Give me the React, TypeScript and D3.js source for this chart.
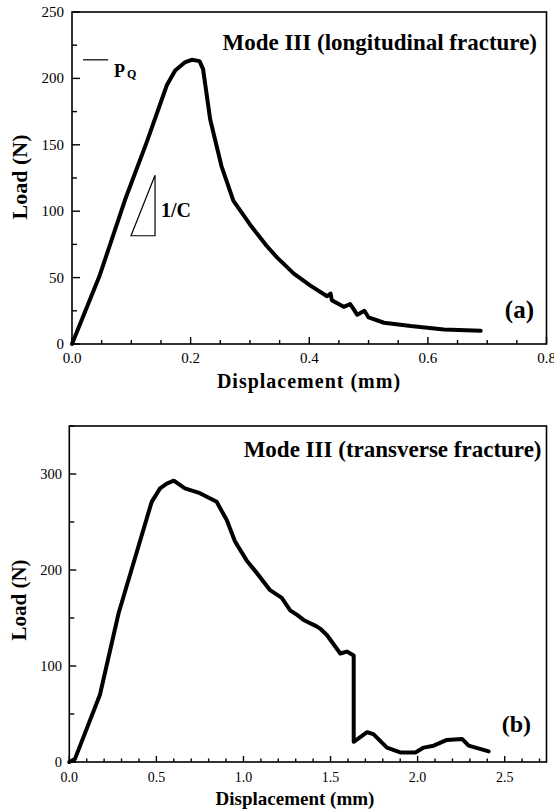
import React from "react";
import * as d3 from "d3";

// ---- Data ----
const longDisp = [0, 0.047, 0.089, 0.126, 0.16, 0.174, 0.19, 0.202, 0.215, 0.221, 0.233, 0.252, 0.272, 0.3, 0.328, 0.346, 0.374, 0.402, 0.43, 0.436, 0.438, 0.458, 0.469, 0.475, 0.481, 0.493, 0.5, 0.526, 0.571, 0.627, 0.689];
const longLoad = [0, 52, 108, 152, 195, 206, 212, 214, 213, 207, 169, 134, 108, 90, 74, 65, 53, 44, 36, 38, 33, 28, 30, 26, 22, 25, 20, 16, 13.5, 11, 10];

const transDisp = [0, 0.032, 0.176, 0.283, 0.473, 0.521, 0.56, 0.6, 0.664, 0.75, 0.846, 0.904, 0.951, 1.018, 1.076, 1.153, 1.22, 1.268, 1.31, 1.345, 1.423, 1.44, 1.48, 1.556, 1.594, 1.633, 1.633, 1.71, 1.746, 1.824, 1.9, 1.987, 2.035, 2.092, 2.168, 2.255, 2.293, 2.408];
const transLoad = [0, 3, 70, 155, 271, 285, 290, 293, 285, 280, 271, 252, 230, 210, 197, 179, 171, 158, 153, 148, 141, 139, 132, 113, 115, 111, 21, 31, 29, 15, 10, 10, 15, 17, 23, 24, 17, 11];

const topYTicks = [0, 50, 100, 150, 200, 250];
const topXTicks = [0, 0.2, 0.4, 0.6, 0.8];
const topXTickLabels = ["0.0", "0.2", "0.4", "0.6", "0.8"];
const botYTicks = [0, 100, 200, 300];
const botXTicks = [0, 0.5, 1.0, 1.5, 2.0, 2.5];
const botXTickLabels = ["0.0", "0.5", "1.0", "1.5", "2.0", "2.5"];

const PQ = 214;
const slopeTriX = [0.0995, 0.14];
const slopeTriY = [81.5, 127];

const FONT = "'Liberation Serif', 'Times New Roman', serif";

function range(a: number, b: number, step: number) {
  const out: number[] = [];
  for (let v = a; v <= b + 1e-9; v += step) out.push(+v.toFixed(4));
  return out;
}

export default function App() {
  // top panel scales
  const xA = d3.scaleLinear().domain([0, 0.8]).range([72, 546.5]);
  const yA = d3.scaleLinear().domain([0, 250]).range([344, 12]);
  // bottom panel scales
  const xB = d3.scaleLinear().domain([0, 2.74]).range([69.3, 546.5]);
  const yB = d3.scaleLinear().domain([0, 350]).range([762, 426]);

  const lineA = d3
    .line<number>()
    .x((_, i) => xA(longDisp[i]))
    .y((d) => yA(d))
    .curve(d3.curveLinear);
  const lineB = d3
    .line<number>()
    .x((_, i) => xB(transDisp[i]))
    .y((d) => yB(d))
    .curve(d3.curveLinear);

  const stroke = "#000";

  const topMinorY = range(0, 250, 25);
  const topMinorX = range(0, 0.8, 0.05);
  const botMinorY = range(0, 350, 50);
  const botMinorX = range(0, 2.7, 0.1);

  return (
    <svg
      width={554}
      height={812}
      style={{ position: "absolute", left: 0, top: 0, background: "#fff" }}
      fontFamily={FONT}
    >
      <rect x={0} y={0} width={554} height={812} fill="#fff" />

      {/* ===== Top panel (a) ===== */}
      <rect
        x={xA(0)}
        y={yA(250)}
        width={xA(0.8) - xA(0)}
        height={yA(0) - yA(250)}
        fill="none"
        stroke={stroke}
        strokeWidth={1.6}
      />
      {topMinorY.map((v) => {
        const major = topYTicks.includes(v);
        return (
          <line key={"ay" + v} x1={xA(0)} x2={xA(0) + (major ? 8 : 5)} y1={yA(v)} y2={yA(v)} stroke={stroke} strokeWidth={1.4} />
        );
      })}
      {topMinorX.map((v) => {
        const major = topXTicks.some((t) => Math.abs(t - v) < 1e-6);
        return (
          <line key={"ax" + v} x1={xA(v)} x2={xA(v)} y1={yA(0)} y2={yA(0) - (major ? 7 : 4)} stroke={stroke} strokeWidth={1.4} />
        );
      })}
      {topYTicks.map((v) => (
        <text key={"ayl" + v} x={64} y={yA(v) + 5} fontSize={15} textAnchor="end">
          {v}
        </text>
      ))}
      {topXTicks.map((v, i) => (
        <text key={"axl" + v} x={xA(v)} y={363} fontSize={15} textAnchor="middle">
          {topXTickLabels[i]}
        </text>
      ))}
      <text x={309} y={388} fontSize={20} fontWeight="bold" textAnchor="middle" letterSpacing={1}>
        Displacement (mm)
      </text>
      <text transform={`translate(27,${177}) rotate(-90)`} fontSize={22} fontWeight="bold" textAnchor="middle">
        Load (N)
      </text>
      <text x={537} y={50} fontSize={23} fontWeight="bold" textAnchor="end">
        Mode III (longitudinal fracture)
      </text>
      <text x={534} y={318} fontSize={25} fontWeight="bold" textAnchor="end">
        (a)
      </text>
      {/* P_Q marker */}
      <line x1={xA(0.0185)} x2={xA(0.061)} y1={yA(PQ)} y2={yA(PQ)} stroke={stroke} strokeWidth={1.2} />
      <text x={114} y={76.5} fontSize={18} fontWeight="bold">
        P
      </text>
      <text x={127} y={78} fontSize={12} fontWeight="bold">
        Q
      </text>
      {/* slope triangle */}
      <path
        d={`M${xA(slopeTriX[0])},${yA(slopeTriY[0])} L${xA(slopeTriX[1])},${yA(slopeTriY[1])} L${xA(slopeTriX[1])},${yA(slopeTriY[0])} Z`}
        fill="none"
        stroke={stroke}
        strokeWidth={1.2}
      />
      <text x={161} y={216.5} fontSize={20} fontWeight="bold">
        1/C
      </text>
      <path d={lineA(longLoad) || ""} fill="none" stroke={stroke} strokeWidth={4} strokeLinejoin="round" strokeLinecap="round" />

      {/* ===== Bottom panel (b) ===== */}
      <rect
        x={xB(0)}
        y={yB(350)}
        width={xB(2.74) - xB(0)}
        height={yB(0) - yB(350)}
        fill="none"
        stroke={stroke}
        strokeWidth={1.6}
      />
      {botMinorY.map((v) => {
        const major = botYTicks.includes(v);
        return (
          <line key={"by" + v} x1={xB(0)} x2={xB(0) + (major ? 7 : 5)} y1={yB(v)} y2={yB(v)} stroke={stroke} strokeWidth={1.4} />
        );
      })}
      {botMinorX.map((v) => {
        const major = botXTicks.some((t) => Math.abs(t - v) < 1e-6);
        return (
          <line key={"bx" + v} x1={xB(v)} x2={xB(v)} y1={yB(0)} y2={yB(0) - (major ? 6 : 3.5)} stroke={stroke} strokeWidth={1.4} />
        );
      })}
      {botYTicks.map((v) => (
        <text key={"byl" + v} x={62} y={yB(v) + 5} fontSize={14.5} textAnchor="end">
          {v}
        </text>
      ))}
      {botXTicks.map((v, i) => (
        <text key={"bxl" + v} x={xB(v)} y={781.5} fontSize={14} textAnchor="middle">
          {botXTickLabels[i]}
        </text>
      ))}
      <text x={295} y={805} fontSize={19} fontWeight="bold" textAnchor="middle">
        Displacement (mm)
      </text>
      <text transform={`translate(26,${600}) rotate(-90)`} fontSize={21} fontWeight="bold" textAnchor="middle">
        Load (N)
      </text>
      <text x={541.5} y={456.5} fontSize={23} fontWeight="bold" textAnchor="end">
        Mode III (transverse fracture)
      </text>
      <text x={531} y={732} fontSize={24} fontWeight="bold" textAnchor="end">
        (b)
      </text>
      <path d={lineB(transLoad) || ""} fill="none" stroke={stroke} strokeWidth={4} strokeLinejoin="round" strokeLinecap="round" />
    </svg>
  );
}
